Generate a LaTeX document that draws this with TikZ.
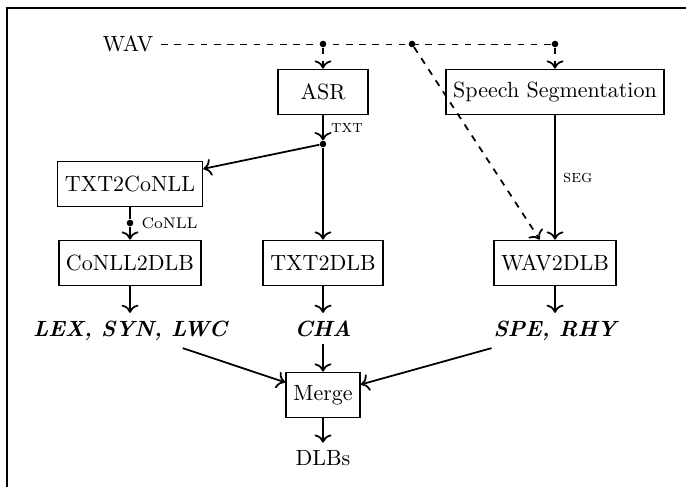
\documentclass[tikz,border=0pt]{standalone}
\usepackage{tikz}
\usetikzlibrary{positioning,arrows.meta}

\begin{document}
\begin{tikzpicture}[x=0.4545pt, y=-0.4545pt,
    proc/.style={draw, thick, minimum height=20.5pt, align=center},
    junction/.style={circle, fill, inner sep=0pt, minimum size=3pt},
    feat/.style={font=\bfseries\itshape},
    lbl/.style={font=\footnotesize},
    arr/.style={-{To[scale=1.1]}, thick},
    darr/.style={-{To[scale=1.1]}, thick, dashed}
  ]
  \useasboundingbox (0,0) rectangle (686,487);
  \draw[thick] (7,487) -- (7,8) -- (686,8);

  % input and splitting points
  \node (wav) at (128,44) {WAV};
  \node[junction] (w1) at (323,44) {};
  \node[junction] (w2) at (412,44) {};
  \node[junction] (w3) at (555,44) {};

  % processing steps
  \node[proc, minimum width=41pt] (asr) at (323,92) {ASR};
  \node[proc] (segm) at (555,92) {Speech Segmentation};
  \node[junction] (t1) at (323,144) {};
  \node[proc] (txt2conll) at (130,184) {TXT2CoNLL};
  \node[junction] (c1) at (130,223) {};
  \node[lbl, font=\scriptsize, right=0pt of c1] (conlltag) {CoNLL};
  \node[proc] (conll2dlb) at (130,263) {CoNLL2DLB};
  \node[proc] (txt2dlb) at (323,263) {TXT2DLB};
  \node[proc] (wav2dlb) at (555,263) {WAV2DLB};

  % feature groups
  \node[feat, below=12pt of conll2dlb] (lex) {LEX, SYN, LWC};
  \node[feat, below=12pt of txt2dlb] (cha) {CHA};
  \node[feat, below=12pt of wav2dlb] (spe) {SPE, RHY};
  \node[proc] (merge) at (323,395) {Merge};
  \node[below=11pt of merge] (dlbs) {DLBs};

  \draw[dashed] (wav) -- (w3);
  \draw[darr] (w1) -- (asr);
  \draw[darr] (w3) -- (segm);
  \draw[darr] (w2) -- (wav2dlb);
  \draw[arr] (asr) -- node[lbl, right] {\textsc{txt}} (t1);
  \draw[arr] (t1) -- (txt2conll);
  \draw[arr] (t1) -- (txt2dlb);
  \draw[thick] (txt2conll) -- (c1);
  \draw[arr] (c1) -- (conll2dlb);
  \draw[arr] (segm) -- node[lbl, right] {\textsc{seg}} (wav2dlb);
  \draw[arr] (conll2dlb) -- (lex);
  \draw[arr] (txt2dlb) -- (cha);
  \draw[arr] (wav2dlb) -- (spe);
  \draw[arr] (lex) -- (merge);
  \draw[arr] (cha) -- (merge);
  \draw[arr] (spe) -- (merge);
  \draw[arr] (merge) -- (dlbs);
\end{tikzpicture}
\end{document}
